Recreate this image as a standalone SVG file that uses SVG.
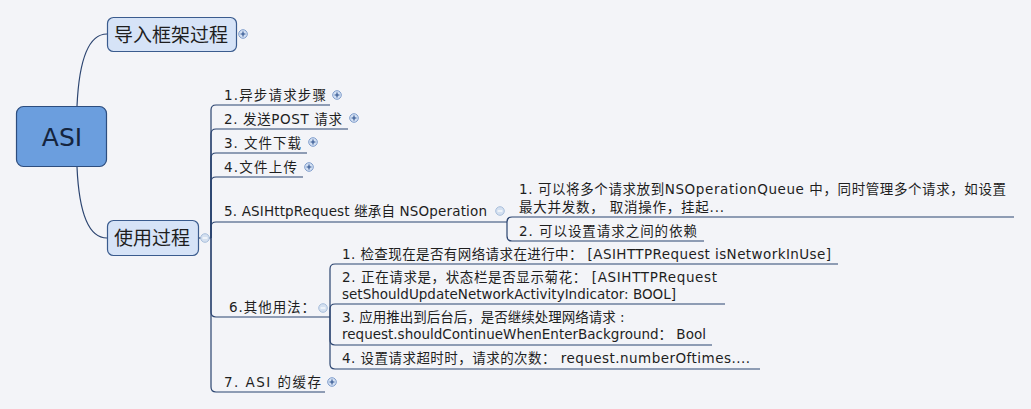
<svg xmlns="http://www.w3.org/2000/svg" xmlns:xlink="http://www.w3.org/1999/xlink" width="1031" height="409" viewBox="0 0 1031 409">
<style>
.bg{fill:#f3f4f8}
.root{fill:#6b9ede;stroke:#2d4d7e;stroke-width:1.2}
.main{fill:#d6e3f7;stroke:#3a5b8e;stroke-width:1.2}
.t{font-family:"DejaVu Sans","Noto Sans CJK SC",sans-serif;fill:#1e1e1e}
.item{font-size:13.5px}
.title{font-size:19px}
.rootT{font-size:25px;fill:#15253f}
.ln{fill:none;stroke:#2b4470;stroke-width:1.2}
.pc{fill:#d3e0f3;stroke:#7f9dcc;stroke-width:1}
.pm{stroke:#2b4f8c;stroke-width:1.1}
.mc{fill:#d4e0f0;stroke:#a9bfdc;stroke-width:1}
.mm{stroke:#ffffff;stroke-width:1.2}
</style>
<defs>
<g id="plus"><circle class="pc" r="4.3"/><path class="pm" d="M-2.4 0H2.4M0 -2.4V2.4"/></g>
<g id="minus"><circle class="mc" r="4.3"/><path class="mm" d="M-2.4 0H2.4"/></g>
</defs>
<rect class="bg" x="0" y="0" width="1031" height="409"/>

<g id="connectors">
<path class="ln" d="M77 106 C79 62 88 34 107 34"/>
<path class="ln" d="M77 167 C79 212 88 238 107 238"/>
<path class="ln" d="M199 238 H211"/>
<path class="ln" d="M211 238 V110 Q211 105 216 105 H330"/>
<path class="ln" d="M211 238 V134 Q211 129 216 129 H348"/>
<path class="ln" d="M211 238 V158 Q211 153 216 153 H307"/>
<path class="ln" d="M211 238 V182 Q211 177 216 177 H303"/>
<path class="ln" d="M211 238 V227 Q211 222 216 222 H507"/>
<path class="ln" d="M211 238 V312 Q211 317 216 317 H330"/>
<path class="ln" d="M211 238 V387 Q211 392 216 392 H325"/>
<path class="ln" d="M507 222 V222 Q507 217 512 217 H1014"/>
<path class="ln" d="M507 222 V236 Q507 241 512 241 H704"/>
<path class="ln" d="M330 317 V269 Q330 264 335 264 H838"/>
<path class="ln" d="M330 317 V309 Q330 304 335 304 H725"/>
<path class="ln" d="M330 317 V340 Q330 345 335 345 H712"/>
<path class="ln" d="M330 317 V364 Q330 369 335 369 H760"/>
</g>

<g id="node-asi">
<rect class="root" x="16.5" y="106.5" width="90" height="60" rx="7"/>
<text class="t rootT" x="62" y="146" text-anchor="middle">ASI</text>
</g>

<g id="node-import">
<rect class="main" x="107.5" y="17.5" width="129" height="34" rx="6"/>
<text class="t title" x="114" y="42">导入框架过程</text>
<use xlink:href="#plus" x="243" y="34"/>
</g>

<g id="node-usage">
<rect class="main" x="107.5" y="220.5" width="91" height="35" rx="6"/>
<text class="t title" x="114" y="245">使用过程</text>
<use xlink:href="#minus" x="205" y="238"/>
</g>

<g id="item-1">
<text class="t item" x="224" y="100" textLength="102" lengthAdjust="spacing">1.异步请求步骤</text>
<use xlink:href="#plus" x="337" y="95"/>
</g>
<g id="item-2">
<text class="t item" x="224" y="124" textLength="118" lengthAdjust="spacing">2. 发送POST 请求</text>
<use xlink:href="#plus" x="354" y="118"/>
</g>
<g id="item-3">
<text class="t item" x="224" y="148" textLength="77" lengthAdjust="spacing">3. 文件下载</text>
<use xlink:href="#plus" x="313" y="142"/>
</g>
<g id="item-4">
<text class="t item" x="224" y="172" textLength="73" lengthAdjust="spacing">4.文件上传</text>
<use xlink:href="#plus" x="309" y="167"/>
</g>
<g id="item-5">
<text class="t item" x="224" y="216" textLength="263" lengthAdjust="spacing">5. ASIHttpRequest 继承自 NSOperation</text>
<use xlink:href="#minus" x="500" y="211"/>
</g>
<g id="item-5-1">
<text class="t item" x="519" y="194" textLength="487" lengthAdjust="spacing">1. 可以将多个请求放到NSOperationQueue 中，同时管理多个请求，如设置</text>
<text class="t item" x="519" y="212" textLength="205" lengthAdjust="spacing">最大并发数， 取消操作，挂起...</text>
</g>
<g id="item-5-2">
<text class="t item" x="519" y="236" textLength="178" lengthAdjust="spacing">2. 可以设置请求之间的依赖</text>
</g>
<g id="item-6">
<text class="t item" x="229" y="312" textLength="86" lengthAdjust="spacing">6.其他用法：</text>
<use xlink:href="#minus" x="323" y="308"/>
</g>
<g id="item-6-1">
<text class="t item" x="342" y="259" textLength="489" lengthAdjust="spacing">1. 检查现在是否有网络请求在进行中： [ASIHTTPRequest isNetworkInUse]</text>
</g>
<g id="item-6-2">
<text class="t item" x="342" y="282" textLength="375" lengthAdjust="spacing">2. 正在请求是，状态栏是否显示菊花： [ASIHTTPRequest</text>
<text class="t item" x="342" y="299">setShouldUpdateNetworkActivityIndicator: BOOL]</text>
</g>
<g id="item-6-3">
<text class="t item" x="342" y="322">3. 应用推出到后台后，是否继续处理网络请求 :</text>
<text class="t item" x="342" y="339">request.shouldContinueWhenEnterBackground： Bool</text>
</g>
<g id="item-6-4">
<text class="t item" x="342" y="363" textLength="408" lengthAdjust="spacing">4. 设置请求超时时，请求的次数： request.numberOftimes....</text>
</g>
<g id="item-7">
<text class="t item" x="224" y="387" textLength="97" lengthAdjust="spacing">7. ASI 的缓存</text>
<use xlink:href="#plus" x="332" y="382"/>
</g>
</svg>
